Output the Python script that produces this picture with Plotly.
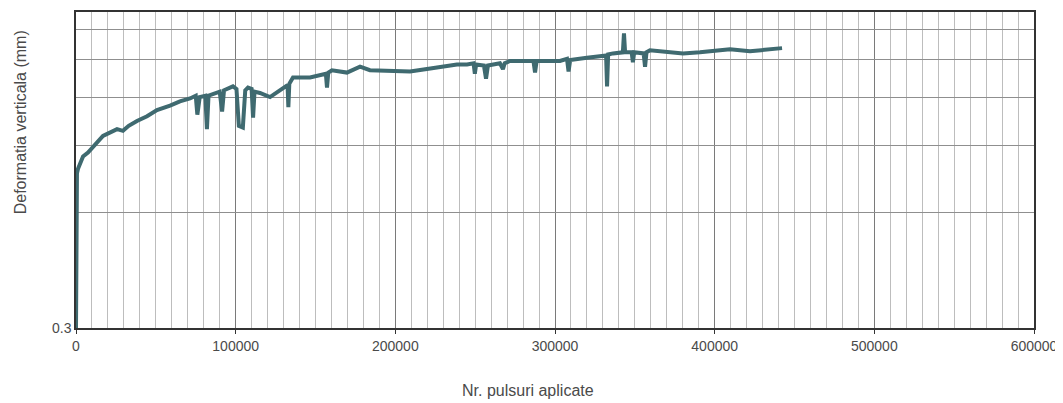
import plotly.graph_objects as go

# Data (number of pulses vs vertical deformation, mm)
pulses = [0, 300, 600, 1250, 3100, 4400, 7500, 10600, 16900, 25700, 29400, 33000,
          38200, 44500, 50700, 58900, 65100, 71400, 75000, 76000, 77500, 81000,
          82000, 83000, 85800, 90000, 91500, 92700, 98300, 100500, 102000, 104500,
          106000, 107700, 110000, 110900, 111800, 115200, 121500, 127800, 132500,
          133000, 133600, 135900, 146600, 156500, 157200, 158000, 160300, 169700,
          177900, 184100, 198500, 209200, 219800, 238600, 244900, 249000, 249800,
          250600, 255500, 256800, 258000, 265500, 267400, 268500, 271800, 286500,
          287500, 288500, 303100, 307500, 308500, 309500, 320000, 328200, 332000,
          332600, 333300, 336300, 342500, 343200, 343900, 348000, 348800, 349600,
          355500, 356400, 357300, 359500, 370100, 380200, 390800, 409600, 422100,
          432800, 442200]
deformation = [0.30, 0.56, 0.76, 0.78, 0.81, 0.84, 0.86, 0.89, 0.95, 0.99, 0.98, 1.01,
               1.04, 1.07, 1.11, 1.14, 1.17, 1.19, 1.21, 1.08, 1.20, 1.21,
               0.99, 1.21, 1.22, 1.24, 1.10, 1.25, 1.28, 1.26, 1.01, 1.00,
               1.25, 1.27, 1.26, 1.06, 1.24, 1.23, 1.20, 1.25, 1.29,
               1.13, 1.30, 1.35, 1.35, 1.38, 1.27, 1.39, 1.41, 1.39,
               1.44, 1.41, 1.40, 1.40, 1.42, 1.46, 1.46, 1.47, 1.38,
               1.46, 1.45, 1.34, 1.45, 1.47, 1.42, 1.47, 1.49, 1.49,
               1.39, 1.49, 1.49, 1.51, 1.40, 1.50, 1.52, 1.54, 1.54,
               1.28, 1.55, 1.56, 1.57, 1.76, 1.57, 1.57, 1.48, 1.57,
               1.56, 1.44, 1.57, 1.59, 1.57, 1.56, 1.57, 1.60, 1.58,
               1.60, 1.61]

y_grid = [0.3, 0.6, 0.9, 1.2, 1.5, 1.8]
y_labels = ["0.3", "", "", "", "", ""]
x_ticks = [0, 100000, 200000, 300000, 400000, 500000, 600000]
x_labels = ["0", "100000", "200000", "300000", "400000", "500000", "600000"]

FONT = "Liberation Sans, Arial, sans-serif"

fig = go.Figure()
fig.add_trace(go.Scatter(
    x=pulses, y=deformation, mode="lines",
    line=dict(color="#3f6a70", width=4),
    showlegend=False, hoverinfo="skip"))

fig.update_layout(
    width=1055, height=395,
    margin=dict(l=68, r=29, t=2, b=75),
    paper_bgcolor="white", plot_bgcolor="white",
    font=dict(family=FONT, size=14, color="#4a4a4a"),
    showlegend=False,
)

fig.update_xaxes(
    range=[0, 600000],
    tickmode="array", tickvals=x_ticks, ticktext=x_labels,
    ticks="outside", ticklen=4, tickcolor="#333",
    showgrid=True, gridcolor="#7a7a7a", gridwidth=1,
    minor=dict(dtick=10000, showgrid=True, gridcolor="#bdbdbd", gridwidth=1, ticks=""),
    showline=True, linecolor="#333", linewidth=1.5, mirror=True,
    zeroline=False,
    tickfont=dict(family=FONT, size=14, color="#4a4a4a"),
)

fig.update_yaxes(
    type="log",
    range=[-0.5228787, 0.30103],
    tickmode="array", tickvals=y_grid, ticktext=y_labels,
    ticks="", showgrid=True, gridcolor="#8f8f8f", gridwidth=1,
    showline=True, linecolor="#333", linewidth=1.5, mirror=True,
    zeroline=False,
    tickfont=dict(family=FONT, size=14, color="#4a4a4a"),
)

fig.add_annotation(
    text="Nr. pulsuri aplicate", xref="paper", yref="paper",
    x=0.472, y=0, yshift=-62, showarrow=False,
    xanchor="center", yanchor="middle",
    font=dict(family=FONT, size=16, color="#4a4a4a"))

fig.add_annotation(
    text="Deformatia verticala (mm)", xref="paper", yref="paper",
    x=0, xshift=-56, y=0.651, showarrow=False, textangle=-90,
    xanchor="center", yanchor="middle",
    font=dict(family=FONT, size=16, color="#4a4a4a"))

fig.write_html("out.html")
